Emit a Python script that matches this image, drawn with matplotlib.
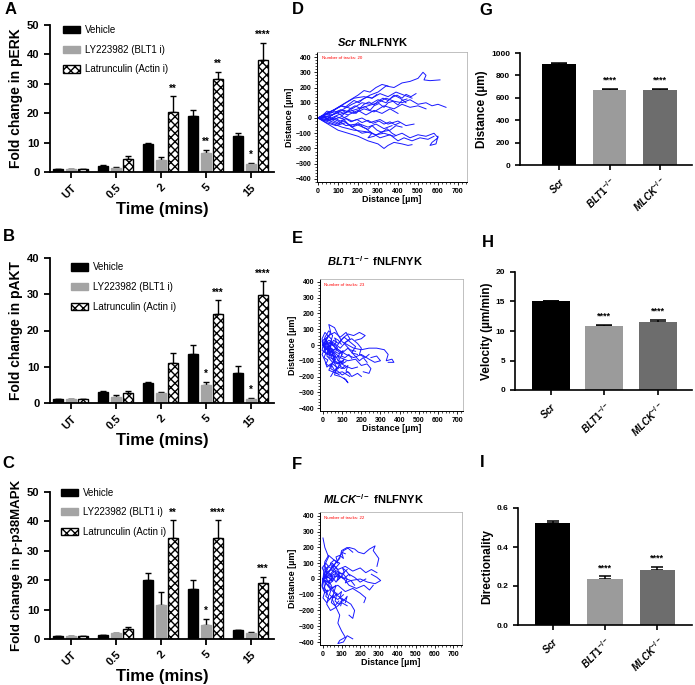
import numpy as np
import matplotlib
matplotlib.use("Agg")
import matplotlib.pyplot as plt
from matplotlib.ticker import MultipleLocator

plt.rcParams['font.family'] = ['Liberation Sans', 'DejaVu Sans']
plt.rcParams['font.weight'] = 'bold'
plt.rcParams['axes.labelweight'] = 'bold'
plt.rcParams['mathtext.fontset'] = 'custom'
plt.rcParams['mathtext.it'] = 'Liberation Sans:italic:bold'
plt.rcParams['mathtext.rm'] = 'Liberation Sans:bold'
plt.rcParams['mathtext.bf'] = 'Liberation Sans:bold'
plt.rcParams['hatch.linewidth'] = 1.0

# ============================================================
# Data: signalling (A-C)
# ============================================================
times = ['UT', '0.5', '2', '5', '15']
treatments = ['Vehicle', 'LY223982 (BLT1 i)', 'Latrunculin (Actin i)']

perk_veh = [1.0, 2.2, 9.6, 19.0, 12.3]
perk_veh_err = [0.1, 0.3, 0.3, 2.0, 1.0]
perk_ly = [1.0, 1.4, 4.2, 6.6, 2.7]
perk_ly_err = [0.1, 0.3, 0.9, 1.0, 0.5]
perk_lat = [1.0, 4.5, 20.5, 31.6, 38.1]
perk_lat_err = [0.1, 0.8, 5.3, 2.5, 5.8]
perk_sig_ly = ['', '', '', '**', '*']
perk_sig_lat = ['', '', '**', '**', '****']

pakt_veh = [1.1, 3.1, 5.5, 13.5, 8.2]
pakt_veh_err = [0.1, 0.3, 0.4, 2.5, 2.1]
pakt_ly = [1.1, 1.7, 2.7, 4.9, 1.2]
pakt_ly_err = [0.1, 0.4, 0.3, 0.9, 0.3]
pakt_lat = [1.1, 2.8, 11.0, 24.5, 29.8]
pakt_lat_err = [0.1, 0.6, 2.7, 3.8, 3.8]
pakt_sig_ly = ['', '', '', '*', '*']
pakt_sig_lat = ['', '', '', '***', '****']

p38_veh = [1.0, 1.3, 20.0, 16.9, 3.0]
p38_veh_err = [0.1, 0.1, 2.3, 3.3, 0.2]
p38_ly = [1.0, 1.9, 11.4, 4.9, 2.0]
p38_ly_err = [0.1, 0.3, 4.7, 2.0, 0.5]
p38_lat = [1.0, 3.4, 34.5, 34.2, 19.0]
p38_lat_err = [0.1, 0.7, 5.9, 6.2, 2.1]
p38_sig_ly = ['', '', '', '*', '']
p38_sig_lat = ['', '', '**', '****', '***']

# ============================================================
# Data: migration tracks (D-F), x and y in um
# ============================================================
tracks_scr = [
    ([0, 40, 90, 130, 170, 220, 260, 300, 340, 380, 420, 460, 500, 525, 540, 530, 560, 610],
     [0, 10, 30, 60, 90, 120, 150, 170, 210, 200, 230, 240, 260, 300, 280, 250, 245, 250]),
    ([0, 50, 100, 150, 200, 250, 300, 340, 380, 420, 460, 500, 540, 570, 600, 620, 640],
     [0, -10, 20, 40, 60, 80, 100, 130, 110, 100, 120, 90, 100, 80, 90, 80, 70]),
    ([0, 60, 120, 180, 240, 290, 330, 380, 420, 460, 500, 540, 580, 600, 570, 560, 590, 600],
     [0, -30, -60, -80, -90, -110, -100, -120, -100, -130, -110, -120, -100, -130, -160, -180, -170, -120]),
    ([0, 50, 100, 150, 200, 250, 300, 330, 350, 380, 420, 450, 470],
     [0, -40, -80, -100, -120, -150, -170, -200, -180, -160, -170, -180, -175]),
    ([0, 40, 80, 130, 180, 230, 280, 330, 380, 420, 460, 500, 540],
     [0, 20, 40, 50, 30, 60, 40, 80, 60, 90, 70, 80, 60]),
    ([0, 30, 80, 120, 170, 220, 260, 310, 350, 400, 440, 480],
     [0, -20, -10, 10, -20, 0, -30, -10, -40, -20, -50, -40]),
    ([0, 40, 90, 140, 180, 230, 270, 310, 350, 390, 430, 470],
     [0, 30, 60, 100, 130, 140, 130, 160, 140, 170, 150, 130]),
    ([0, 50, 100, 140, 190, 240, 270, 250, 280, 320, 360, 390, 420],
     [0, 10, -20, -50, -40, -70, -100, -130, -120, -90, -80, -50, -60]),
    ([0, 60, 120, 170, 220, 260, 300, 340, 380, 410, 440],
     [0, 40, 80, 60, 100, 90, 120, 100, 150, 130, 100]),
    ([0, 40, 70, 110, 150, 200, 240, 280, 320, 360, 400],
     [0, -10, 20, 40, 20, 50, 20, 50, 30, 60, 30]),
    ([0, 30, 60, 100, 130, 170, 210, 250, 290, 330, 370],
     [0, 10, -20, -40, -20, -60, -40, -60, -40, -70, -50]),
    ([0, 50, 100, 150, 200, 230, 260, 290, 320, 350],
     [0, 30, 70, 110, 150, 180, 170, 200, 220, 210]),
    ([0, 40, 90, 140, 180, 220, 260, 310, 360, 400, 430, 470, 510, 550, 580],
     [0, -30, -50, -30, -70, -100, -90, -130, -110, -150, -130, -150, -130, -140, -120]),
    ([0, 30, 60, 90, 120, 150],
     [0, 5, -15, 10, -5, 15]),
    ([0, 25, 50, 70, 95, 120, 140, 165, 190, 210, 235, 260, 280, 305, 330, 350, 375, 400, 420, 445],
     [0, 15, -5, 20, 35, 15, 40, 55, 30, 60, 75, 50, 80, 95, 70, 100, 110, 85, 115, 125]),
    ([0, 30, 55, 80, 105, 130, 150, 175, 200, 225, 250, 270, 295, 320, 345, 370, 390],
     [0, -15, 5, -20, -35, -10, -40, -55, -30, -60, -75, -50, -80, -95, -70, -100, -115]),
    ([0, 20, 45, 70, 90, 115, 140, 160, 185, 210, 230, 255, 280, 300, 325, 350, 370, 395, 420, 440, 465, 490],
     [0, 10, 30, 15, 40, 55, 35, 60, 80, 65, 90, 105, 85, 110, 130, 115, 135, 150, 130, 155, 140, 160]),
    ([0, 30, 55, 85, 110, 140, 165, 195, 220, 250, 275, 305, 330, 360, 385, 410],
     [0, 5, -15, 0, -20, -5, -25, -10, -30, -15, -35, -20, -40, -25, -45, -30]),
    ([0, 25, 45, 70, 90, 115, 135, 160, 180, 205, 225, 250, 270, 295],
     [0, 20, 45, 35, 60, 80, 70, 95, 115, 100, 125, 140, 130, 155]),
]

tracks_blt1 = [
    ([0, 20, 40, 30, 60, 80, 100, 130, 160, 200, 240, 280, 320, 340, 330, 360, 370, 340],
     [0, 40, 80, 130, 110, 60, 20, 0, -20, -30, -20, -20, -30, -60, -100, -90, -110, -110]),
    ([0, 30, 50, 70, 60, 90, 120, 130, 110],
     [0, -40, -90, -140, -190, -200, -220, -240, -210]),
    ([0, 40, 70, 100, 130, 160, 190, 220, 200, 170],
     [0, 20, -10, 40, 70, 60, 80, 60, 40, 30]),
    ([0, 20, 60, 90, 130, 170, 200, 230, 250, 240, 210],
     [0, -30, -50, -80, -100, -90, -130, -120, -150, -180, -170]),
    ([0, 10, 30, 50, 40, 70, 100, 80, 110, 150, 180],
     [0, 50, 90, 60, 20, -30, -60, -100, -130, -150, -140]),
    ([0, 30, 20, 50, 30, 70, 100, 140],
     [0, -20, -70, -110, -160, -180, -170, -200]),
    ([0, 40, 80, 120, 160, 200, 240, 270, 300, 280, 250],
     [0, 10, -30, -60, -80, -60, -90, -110, -100, -70, -80]),
    ([0, -5, 10, 25, 15, 40, 30, 60, 50, 80],
     [0, 40, 80, 60, 20, -10, -50, -70, -120, -150]),
    ([0, 30, 60, 90, 120, 150, 180, 200, 190, 220, 240],
     [0, 30, 10, -20, 20, 40, 10, -20, -60, -80, -60]),
    ([0, 20, 40, 60, 90, 70, 100, 130, 150, 180, 200],
     [0, -60, -20, -100, -120, -160, -190, -170, -200, -180, -200]),
    ([0, 15, 35, 55, 80, 110, 140, 170, 150, 180],
     [0, 30, -10, 30, 10, 50, 20, -10, -50, -60]),
    ([0, 10, -5, 10, 20, 40, 60, 40],
     [0, -20, -60, -100, -140, -120, -160, -200]),
    ([0, 30, 60, 90, 120, 140, 110, 140, 170],
     [0, 60, 80, 50, 80, 40, 10, -30, -40]),
    ([0, 20, 40, 70, 100, 130, 160, 190, 210, 230],
     [0, 0, -40, -20, -50, -20, -60, -100, -80, -110]),
    ([0, 15, 5, 25, 40, 30, 50, 65, 55, 75, 90, 80, 100, 115],
     [0, -20, -45, -60, -40, -75, -90, -70, -110, -120, -100, -140, -150, -130]),
    ([0, -5, 10, 20, 5, 25, 35, 20, 40, 55, 45, 60],
     [0, 25, 40, 20, -5, -25, 0, -30, -50, -35, -65, -80]),
    ([0, 20, 35, 25, 45, 60, 50, 70, 85, 75, 95, 110, 100, 120],
     [0, 10, -10, -30, -20, -45, -65, -80, -60, -95, -110, -90, -120, -105]),
    ([0, 10, 30, 20, 40, 55, 70, 60, 80, 100, 90, 110, 130, 120, 140],
     [0, -30, -20, -55, -70, -50, -80, -105, -120, -100, -135, -150, -130, -165, -180]),
    ([0, 20, 10, 30, 45, 35, 55, 70, 60, 80, 95],
     [0, 15, 40, 55, 35, 10, -5, 20, 45, 30, 5]),
    ([0, -5, 15, 5, 25, 15, 35, 50, 40, 60, 75, 65, 85],
     [0, -35, -50, -80, -95, -120, -135, -110, -150, -165, -140, -175, -190]),
    ([0, 25, 45, 35, 55, 75, 65, 85, 105, 95, 115, 135, 150],
     [0, -10, 5, -20, -35, -15, -45, -55, -35, -70, -80, -60, -85]),
]

tracks_mlck = [
    ([0, 20, 10, 30, 10, 0],
     [0, 40, 90, 140, 200, 260]),
    ([0, 40, 80, 110, 140, 170, 190, 220, 250, 280, 270, 300, 290],
     [0, 60, 120, 180, 200, 190, 170, 160, 190, 210, 180, 130, 80]),
    ([0, 40, 60, 50, 70, 90, 80, 100, 120, 90, 80, 110, 130, 160],
     [0, -30, -80, -130, -180, -230, -280, -330, -370, -390, -410, -400, -360, -380]),
    ([0, 50, 100, 150, 200, 240, 280, 310, 290, 260],
     [0, 20, 10, -10, 0, -20, -30, -10, 10, 30]),
    ([0, 30, 70, 110, 150, 170, 160, 140],
     [0, -50, -100, -130, -160, -200, -250, -230]),
    ([0, 20, 50, 80, 120, 160, 200, 230, 260, 290],
     [0, 70, 100, 60, 80, 50, 70, 40, 60, 40]),
    ([0, 10, 30, 20, 40, 70, 100, 130],
     [0, -60, -110, -160, -200, -180, -150, -170]),
    ([0, 40, 70, 100, 140, 180, 220, 250, 270],
     [0, 30, -20, 20, -40, -60, -40, -70, -40]),
    ([0, -5, 10, 0, 20, 50, 80, 110],
     [0, -40, -80, -120, -150, -110, -130, -100]),
    ([0, 30, 60, 90, 100, 130, 160],
     [0, 40, 90, 130, 180, 200, 170]),
    ([0, 20, 50, 80, 110, 140, 170, 200, 230],
     [0, 20, -10, 30, 0, 30, 10, -20, 0]),
    ([0, 10, 30, 60, 90, 60, 100, 130],
     [0, 110, 150, 120, 100, 60, 30, 60]),
    ([0, 40, 80, 120, 160, 200, 230, 220],
     [0, -60, -40, -80, -60, -90, -120, -150]),
    ([0, 10, 30, 50, 20, 40, 70, 60],
     [0, 20, -20, 10, 40, 60, 40, 10]),
    ([0, 20, 10, 30, 50, 40, 60, 80, 70, 90, 110, 100, 120],
     [0, 30, 60, 80, 60, 100, 120, 100, 140, 150, 130, 170, 160]),
    ([0, 15, 5, 25, 45, 35, 55, 75, 65, 85, 105, 95],
     [0, -30, -60, -80, -60, -100, -120, -90, -140, -160, -130, -170]),
    ([0, 25, 15, 35, 55, 45, 65, 85, 75, 95, 115, 105, 125, 145],
     [0, 20, -10, -30, -10, 30, 50, 20, -10, 10, 40, 70, 50, 20]),
    ([0, 10, -5, 15, 30, 20, 40, 60, 50, 70, 90, 80],
     [0, 40, 70, 100, 80, 50, 30, 60, 90, 70, 40, 10]),
    ([0, 20, 40, 30, 50, 70, 60, 80, 100, 90, 110, 130, 120],
     [0, -20, -5, -40, -60, -40, -80, -100, -80, -120, -140, -110, -150]),
    ([0, -5, 10, 25, 15, 35, 55, 45, 65, 85],
     [0, -50, -90, -70, -110, -130, -100, -150, -170, -140]),
    ([0, 30, 50, 40, 70, 90, 80, 110, 130, 120, 150, 170],
     [0, 10, -15, 20, 35, 10, 45, 30, 0, -25, -10, -40]),
]

# ============================================================
# Data: migration summary (G-I)
# ============================================================
genotypes = [r'$\mathit{Scr}$', r'$\mathit{BLT1}^{-/-}$', r'$\mathit{MLCK}^{-/-}$']
dist_mean = [900, 670, 668]
dist_err = [10, 12, 15]
vel_mean = [15.0, 10.9, 11.6]
vel_err = [0.15, 0.2, 0.3]
dir_mean = [0.525, 0.235, 0.28]
dir_err = [0.01, 0.015, 0.02]
summary_sig = ['', '****', '****']

W, H = 695, 685
fig = plt.figure(figsize=(6.95, 6.85), dpi=100)


def rect(x0, y0, x1, y1):
    # pixel box -> figure fraction
    return [x0 / W, 1 - y1 / H, (x1 - x0) / W, (y1 - y0) / H]


def style_axes(ax, lw=1.3):
    ax.spines['top'].set_visible(False)
    ax.spines['right'].set_visible(False)
    ax.spines['left'].set_linewidth(lw)
    ax.spines['bottom'].set_linewidth(lw)
    ax.tick_params(width=lw, direction='out')


def fold_panel(box, means, errs, sigs, ymax, ystep, ylabel, ylabel_size, leg_xy):
    ax = fig.add_axes(rect(*box))
    x = np.arange(len(times))
    offsets = [-0.278, 0.0, 0.278]
    styles = [dict(facecolor='black', edgecolor='black'),
              dict(facecolor='#a4a4a4', edgecolor='#a4a4a4'),
              dict(facecolor='white', edgecolor='black', hatch='xxxx')]
    for k in range(3):
        xs = x + offsets[k]
        ax.bar(xs, means[k], 0.22, label=treatments[k], linewidth=1, zorder=2, **styles[k])
        ax.errorbar(xs, means[k], yerr=[np.zeros(len(times)), errs[k]], fmt='none',
                    ecolor='black', elinewidth=1, capsize=2.5, capthick=1, zorder=1)
        for i, s in enumerate(sigs[k]):
            if s:
                ax.annotate(s, (xs[i], means[k][i] + errs[k][i]), xytext=(0, 2),
                            textcoords='offset points', ha='center', va='bottom', fontsize=7)
    ax.set_xlim(-0.46, 4.52)
    ax.set_ylim(0, ymax)
    ax.yaxis.set_major_locator(MultipleLocator(ystep))
    ax.set_xticks(x)
    ax.set_xticklabels(times, rotation=45, ha='right', rotation_mode='anchor')
    style_axes(ax)
    ax.tick_params(labelsize=8, length=4)
    ax.set_ylabel(ylabel, fontsize=ylabel_size, labelpad=3)
    ax.set_xlabel('Time (mins)', fontsize=12, labelpad=1)
    ax.legend(loc='upper left', bbox_to_anchor=leg_xy, frameon=False,
              prop={'size': 7, 'weight': 'normal'}, handlelength=1.7, handleheight=0.75,
              handletextpad=0.5, labelspacing=1.0, borderaxespad=0, borderpad=0)
    return ax


def track_panel(box, tracks, xlim, ylim, title, title_x, title_pad, n):
    ax = fig.add_axes(rect(*box))
    for xs, ys in tracks:
        ax.plot(xs, ys, color='#1818ff', lw=0.7)
    ax.set_xlim(xlim)
    ax.set_ylim(ylim)
    ax.xaxis.set_major_locator(MultipleLocator(100))
    ax.xaxis.set_minor_locator(MultipleLocator(20))
    ax.yaxis.set_major_locator(MultipleLocator(100))
    ax.yaxis.set_minor_locator(MultipleLocator(20))
    for sp in ['top', 'right']:
        ax.spines[sp].set_color('#b5b5b5')
        ax.spines[sp].set_linewidth(0.6)
    for sp in ['left', 'bottom']:
        ax.spines[sp].set_linewidth(0.7)
    ax.tick_params(which='major', labelsize=5, length=2.5, width=0.6, pad=1.5)
    ax.tick_params(which='minor', length=1.3, width=0.5)
    ax.set_xlabel('Distance [µm]', fontsize=6.5, labelpad=0)
    ax.set_ylabel('Distance [µm]', fontsize=6.5, labelpad=1)
    ax.text(0.03, 0.97, f'Number of tracks: {n}', color='red', fontsize=3.2,
            fontweight='normal', transform=ax.transAxes, va='top', ha='left')
    ax.set_title(title, fontsize=8, fontweight='bold', x=title_x, pad=title_pad)
    return ax


def summary_panel(box, means, errs, ymax, ystep, ylabel, xlim, width, cap, fmt):
    ax = fig.add_axes(rect(*box))
    x = np.arange(3)
    colors = ['black', '#9b9b9b', '#6d6d6d']
    ax.bar(x, means, width, color=colors, zorder=2)
    ax.errorbar(x, means, yerr=[np.zeros(3), errs], fmt='none', ecolor='black',
                elinewidth=1.1, capsize=cap, capthick=1.1, zorder=1)
    for i, s in enumerate(summary_sig):
        if s:
            ax.annotate(s, (x[i], means[i] + errs[i]), xytext=(0, 3),
                        textcoords='offset points', ha='center', va='bottom', fontsize=6.5)
    ax.set_xlim(xlim)
    ax.set_ylim(0, ymax)
    ax.yaxis.set_major_locator(MultipleLocator(ystep))
    ax.yaxis.set_major_formatter(fmt)
    ax.set_xticks(x)
    ax.set_xticklabels(genotypes, rotation=45, ha='right', rotation_mode='anchor')
    style_axes(ax, lw=1.2)
    ax.tick_params(length=3.5)
    ax.tick_params(axis='y', labelsize=6)
    ax.tick_params(axis='x', labelsize=7)
    ax.set_ylabel(ylabel, fontsize=8.5, labelpad=2)
    return ax


fold_panel((50, 25, 274, 172), [perk_veh, perk_ly, perk_lat],
           [perk_veh_err, perk_ly_err, perk_lat_err], [['']*5, perk_sig_ly, perk_sig_lat],
           50, 10, 'Fold change in pERK', 10, (0.06, 1.0))
fold_panel((50, 258, 274, 403), [pakt_veh, pakt_ly, pakt_lat],
           [pakt_veh_err, pakt_ly_err, pakt_lat_err], [['']*5, pakt_sig_ly, pakt_sig_lat],
           40, 10, 'Fold change in pAKT', 10, (0.095, 0.97))
fold_panel((50, 492, 274, 639), [p38_veh, p38_ly, p38_lat],
           [p38_veh_err, p38_ly_err, p38_lat_err], [['']*5, p38_sig_ly, p38_sig_lat],
           50, 10, 'Fold change in p-p38MAPK', 9.5, (0.05, 1.03))

track_panel((317, 52, 467, 182), tracks_scr, (-5, 745), (-420, 433),
            r'$\mathit{Scr}$ fNLFNYK', 0.37, 4, 20)
track_panel((320, 279, 463, 411), tracks_blt1, (-16, 731), (-419, 419),
            r'$\mathit{BLT1}^{-/-}$ fNLFNYK', 0.385, 9, 23)
track_panel((320, 512, 462, 645), tracks_mlck, (-16, 747), (-419, 425),
            r'$\mathit{MLCK}^{-/-}$ fNLFNYK', 0.38, 5.5, 22)

summary_panel((520, 53, 692, 165), dist_mean, dist_err, 1000, 200, 'Distance (µm)',
              (-0.77, 2.63), 0.67, 6, '{x:.0f}')
summary_panel((515, 272, 692, 390), vel_mean, vel_err, 20, 5, 'Velocity (µm/min)',
              (-0.67, 2.64), 0.71, 6, '{x:.0f}')
summary_panel((518, 508, 692, 625), dir_mean, dir_err, 0.6, 0.2, 'Directionality',
              (-0.66, 2.66), 0.67, 4.5, '{x:.1f}')

letters = [('A', 5, 2), ('B', 3, 229), ('C', 2, 456), ('D', 292, 2), ('E', 292, 231),
           ('F', 292, 457), ('G', 479, 3), ('H', 482, 235), ('I', 480, 455)]
for s, px, py in letters:
    fig.text(px / W, 1 - py / H, s, fontsize=12, fontweight='bold', va='top', ha='left')

plt.savefig('out.png', dpi=100)
